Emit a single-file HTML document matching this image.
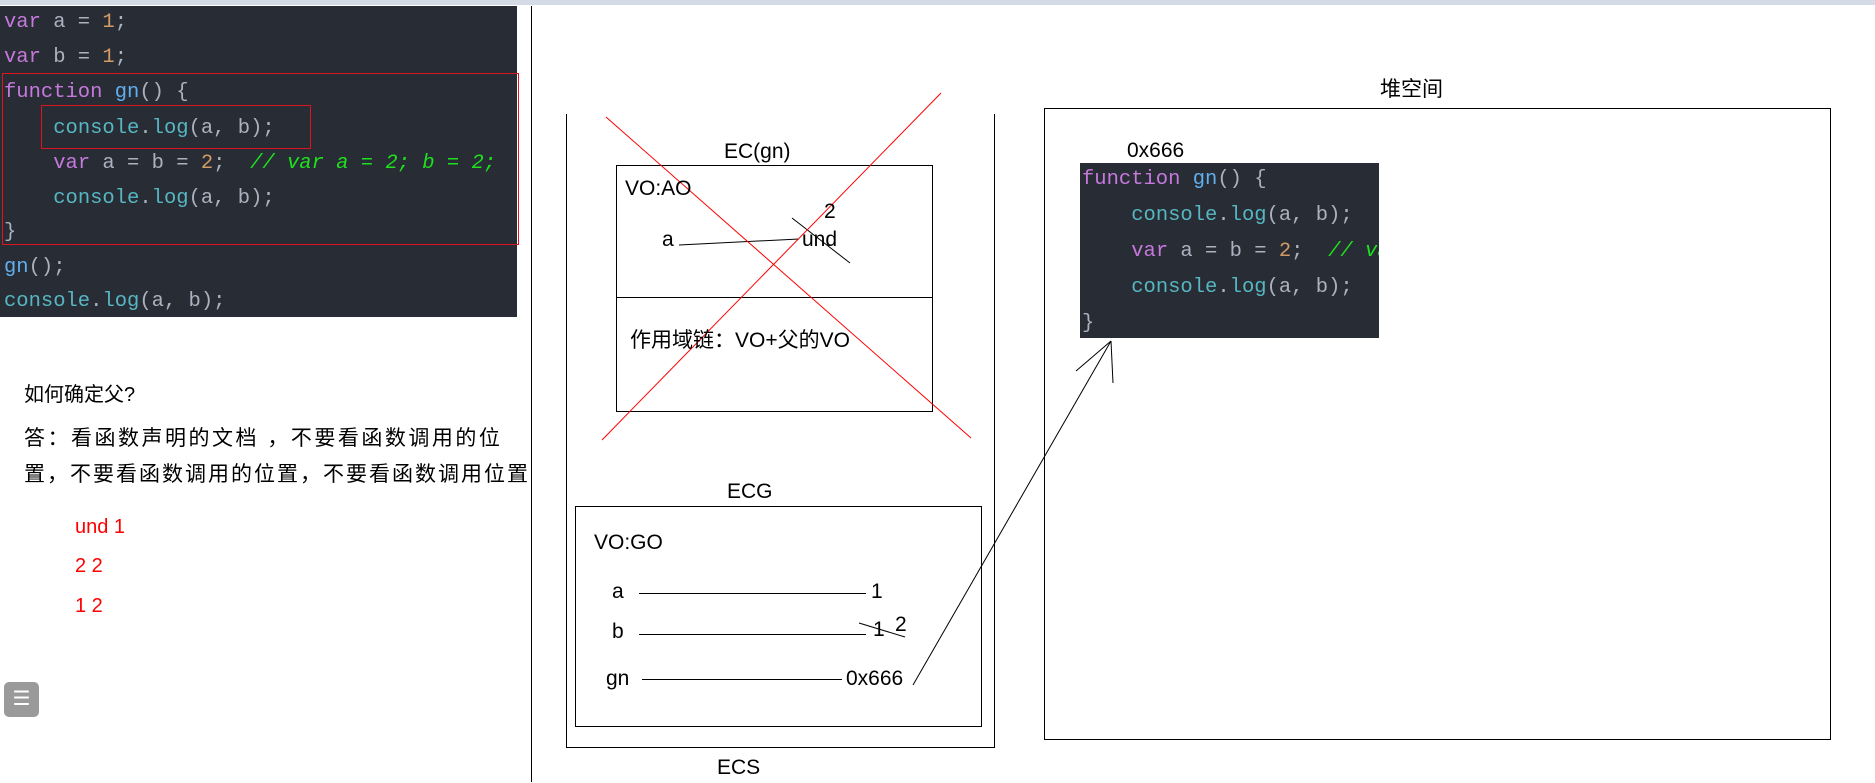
<!DOCTYPE html>
<html><head><meta charset="utf-8"><style>
body{margin:0;width:1875px;height:782px;background:#fff;position:relative;overflow:hidden;font-family:"Liberation Sans","Noto Sans CJK SC",sans-serif}
.t{position:absolute;white-space:pre;line-height:30px;color:#000}
.code{position:absolute;background:#282c34;overflow:hidden}
.cl{position:absolute;left:4px;white-space:pre;font-family:"Liberation Mono","DejaVu Sans Mono",monospace;font-size:20.5px;line-height:30px;color:#abb2bf}
.k{color:#c678dd}.n{color:#d19a66}.c{color:#56b6c2}.f{color:#61afef}.g{color:#1ee01e;font-style:italic}
</style></head><body>
<div style="position:absolute;left:0;top:0;width:1875px;height:5px;background:#d5dbe6"></div>
<div class="code" style="left:0;top:6px;width:517px;height:311px">
<div class="cl" style="top:2px"><span class="k">var</span> a = <span class="n">1</span>;</div>
<div class="cl" style="top:37px"><span class="k">var</span> b = <span class="n">1</span>;</div>
<div class="cl" style="top:72px"><span class="k">function</span> <span class="f">gn</span>() {</div>
<div class="cl" style="top:108px">    <span class="c">console</span>.<span class="c">log</span>(a, b);</div>
<div class="cl" style="top:143px">    <span class="k">var</span> a = b = <span class="n">2</span>;  <span class="g">// var a = 2; b = 2;</span></div>
<div class="cl" style="top:178px">    <span class="c">console</span>.<span class="c">log</span>(a, b);</div>
<div class="cl" style="top:212px">}</div>
<div class="cl" style="top:247px"><span class="f">gn</span>();</div>
<div class="cl" style="top:281px"><span class="c">console</span>.<span class="c">log</span>(a, b);</div>
</div>
<div style="position:absolute;left:2px;top:73px;width:515px;height:170px;border:1px solid #e0141e"></div>
<div style="position:absolute;left:41px;top:105px;width:268px;height:42px;border:1px solid #e0141e"></div>
<div style="position:absolute;left:531px;top:6px;width:1px;height:776px;background:#000"></div>

<div class="t" style="left:24px;top:380px;font-size:20px">如何确定父?</div>
<div class="t" style="left:24px;top:424px;font-size:21px;letter-spacing:2.5px">答：看函数声明的文档 ，不要看函数调用的位</div>
<div class="t" style="left:24px;top:460px;font-size:21px;letter-spacing:2px">置，不要看函数调用的位置，不要看函数调用位置</div>
<div class="t" style="left:75px;top:512px;font-size:20px;color:#f00">und 1</div>
<div class="t" style="left:75px;top:551px;font-size:20px;color:#f00">2 2</div>
<div class="t" style="left:75px;top:591px;font-size:20px;color:#f00">1 2</div>
<div style="position:absolute;left:4px;top:682px;width:35px;height:35px;background:#9a9a9a;border-radius:5px;color:#fff;font-size:20px;line-height:35px;text-align:center">☰</div>

<svg width="1875" height="782" style="position:absolute;left:0;top:0" fill="none">
<g stroke="#000" stroke-width="1">
<path d="M566.5 114V747.5H994.5V114"/>
<rect x="616.5" y="165.5" width="316" height="246"/>
<line x1="616" y1="297.5" x2="933" y2="297.5"/>
<line x1="679" y1="245" x2="799" y2="239"/>
<line x1="792" y1="218" x2="850" y2="263"/>
<rect x="575.5" y="506.5" width="406" height="220"/>
<line x1="639" y1="593.5" x2="866" y2="593.5"/>
<line x1="639" y1="634.5" x2="866" y2="634.5"/>
<line x1="859" y1="623" x2="905" y2="637"/>
<line x1="642" y1="679.5" x2="842" y2="679.5"/>
<line x1="913" y1="685" x2="1111" y2="341"/>
<line x1="1111" y1="341" x2="1076" y2="371"/>
<line x1="1111" y1="341" x2="1113" y2="383"/>
<rect x="1044.5" y="108.5" width="786" height="631"/>
</g>
<g stroke="#f00" stroke-width="1">
<line x1="606" y1="117" x2="971" y2="438"/>
<line x1="941" y1="93" x2="602" y2="440"/>
</g>
</svg>

<div class="t" style="left:724px;top:137px;font-size:21px">EC(gn)</div>
<div class="t" style="left:625px;top:174px;font-size:21px">VO:AO</div>
<div class="t" style="left:824px;top:197px;font-size:21px">2</div>
<div class="t" style="left:662px;top:225px;font-size:21px">a</div>
<div class="t" style="left:802px;top:225px;font-size:21px">und</div>
<div class="t" style="left:630px;top:326px;font-size:21px">作用域链：VO+父的VO</div>
<div class="t" style="left:727px;top:477px;font-size:21px">ECG</div>
<div class="t" style="left:594px;top:528px;font-size:21px">VO:GO</div>
<div class="t" style="left:612px;top:577px;font-size:21px">a</div>
<div class="t" style="left:871px;top:577px;font-size:21px">1</div>
<div class="t" style="left:612px;top:617px;font-size:21px">b</div>
<div class="t" style="left:873px;top:615px;font-size:21px">1</div>
<div class="t" style="left:895px;top:610px;font-size:21px">2</div>
<div class="t" style="left:606px;top:664px;font-size:21px">gn</div>
<div class="t" style="left:846px;top:664px;font-size:21px">0x666</div>
<div class="t" style="left:717px;top:753px;font-size:21px">ECS</div>
<div class="t" style="left:1380px;top:75px;font-size:21px">堆空间</div>
<div class="t" style="left:1127px;top:136px;font-size:21px">0x666</div>

<div class="code" style="left:1080px;top:163px;width:299px;height:175px">
<div class="cl" style="left:2px;top:2px"><span class="k">function</span> <span class="f">gn</span>() {</div>
<div class="cl" style="left:2px;top:38px">    <span class="c">console</span>.<span class="c">log</span>(a, b);</div>
<div class="cl" style="left:2px;top:74px">    <span class="k">var</span> a = b = <span class="n">2</span>;  <span class="g">// var</span></div>
<div class="cl" style="left:2px;top:110px">    <span class="c">console</span>.<span class="c">log</span>(a, b);</div>
<div class="cl" style="left:2px;top:146px">}</div>
</div>
</body></html>
